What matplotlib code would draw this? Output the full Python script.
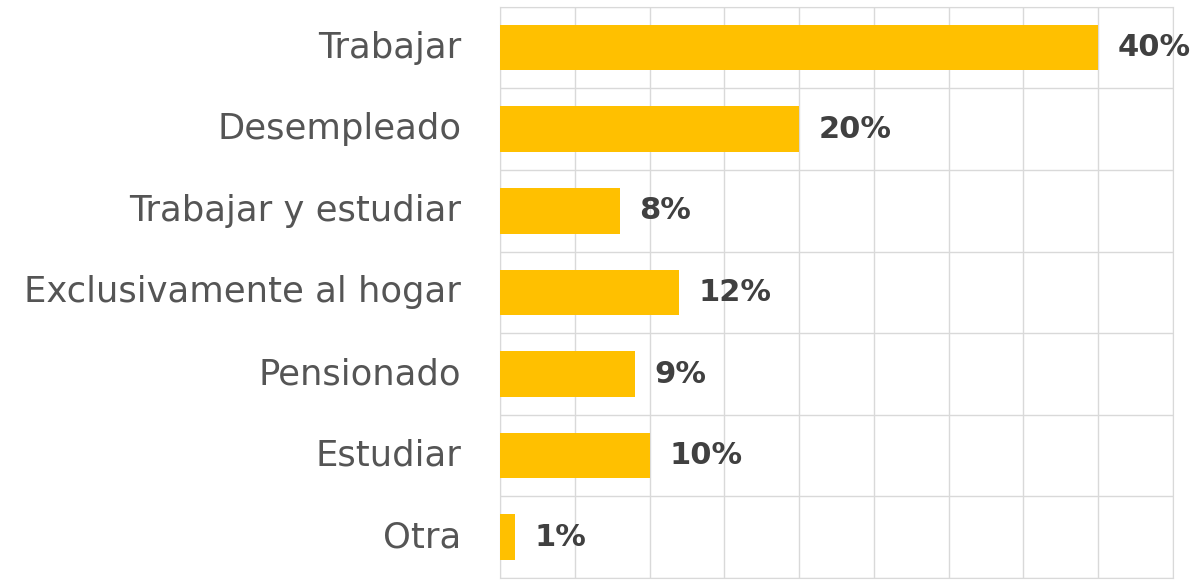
import matplotlib.pyplot as plt
import numpy as np

categories = ['Trabajar', 'Desempleado', 'Trabajar y estudiar',
              'Exclusivamente al hogar', 'Pensionado', 'Estudiar', 'Otra']
values = [40, 20, 8, 12, 9, 10, 1]
value_labels = ['40%', '20%', '8%', '12%', '9%', '10%', '1%']

fig = plt.figure(figsize=(12.04, 5.84), dpi=100)
ax = fig.add_axes([0.4153, 0.0103, 0.559, 0.978])

y = np.arange(len(categories))
ax.barh(y, values, height=0.56, color='#FFC000', zorder=3)

ax.set_xlim(0, 45)
ax.set_ylim(len(categories) - 0.5, -0.5)

# grid: vertical every 5%, horizontal between categories
ax.set_xticks(np.arange(0, 46, 5))
ax.set_yticks(np.arange(-0.5, len(categories), 1))
ax.grid(True, color='#D9D9D9', linewidth=1, zorder=0)
ax.tick_params(length=0, labelbottom=False, labelleft=False)
for s in ax.spines.values():
    s.set_color('#D9D9D9')

for yi, cat in zip(y, categories):
    ax.text(-2.6, yi, cat, ha='right', va='center', fontsize=25.5,
            color='#555555')

for yi, v, lab in zip(y, values, value_labels):
    ax.text(v + 1.3, yi, lab, ha='left', va='center', fontsize=22,
            fontweight='bold', color='#404040')

fig.savefig('out.png', dpi=100)
